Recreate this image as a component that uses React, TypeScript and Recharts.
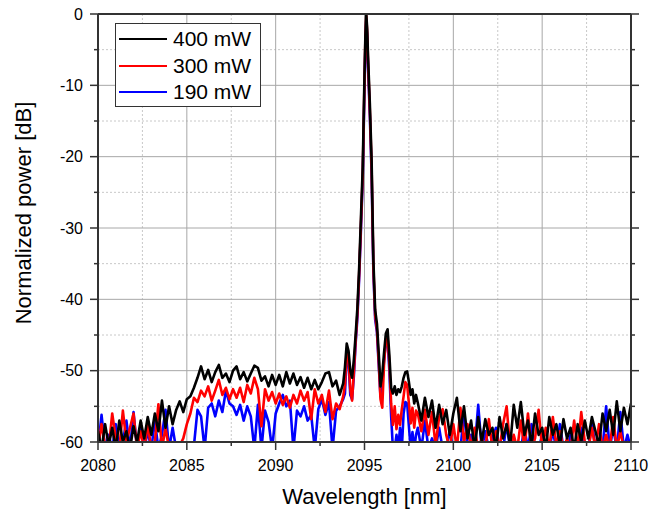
import React from "react";
import { LineChart, Line, XAxis, YAxis, CartesianGrid, Legend } from "recharts";

// sampling grid (nm): coarse on the noise floor, finer across the lasing peak
const wlLeft = [
  2080, 2080.2, 2080.4, 2080.6, 2080.8, 2081, 2081.2, 2081.4, 2081.6, 2081.8,
  2082, 2082.2, 2082.4, 2082.6, 2082.8, 2083, 2083.2, 2083.4, 2083.6, 2083.8,
  2084, 2084.2, 2084.4, 2084.6, 2084.8, 2085, 2085.2, 2085.4, 2085.6, 2085.8,
  2086, 2086.2, 2086.4, 2086.6, 2086.8, 2087, 2087.2, 2087.4, 2087.6, 2087.8,
  2088, 2088.2, 2088.4, 2088.6, 2088.8, 2089, 2089.2, 2089.4, 2089.6, 2089.8,
  2090, 2090.2, 2090.4, 2090.6, 2090.8, 2091, 2091.2, 2091.4, 2091.6, 2091.8,
  2092, 2092.2, 2092.4, 2092.6, 2092.8, 2093, 2093.2, 2093.4, 2093.6, 2093.8,
];
const wlPeak = [
  2093.9, 2094, 2094.1, 2094.2, 2094.3, 2094.4, 2094.5, 2094.6, 2094.7, 2094.8,
  2094.9, 2095, 2095.05, 2095.1, 2095.15, 2095.2, 2095.3, 2095.4, 2095.5, 2095.6,
  2095.7, 2095.8, 2095.9, 2096, 2096.1, 2096.2, 2096.3, 2096.4, 2096.5, 2096.6,
  2096.7, 2096.8, 2096.9, 2097, 2097.1, 2097.2, 2097.3, 2097.4, 2097.5, 2097.6,
  2097.7, 2097.8, 2097.9,
];
const wlRight = [
  2098, 2098.2, 2098.4, 2098.6, 2098.8, 2099, 2099.2, 2099.4, 2099.6, 2099.8,
  2100, 2100.2, 2100.4, 2100.6, 2100.8, 2101, 2101.2, 2101.4, 2101.6, 2101.8,
  2102, 2102.2, 2102.4, 2102.6, 2102.8, 2103, 2103.2, 2103.4, 2103.6, 2103.8,
  2104, 2104.2, 2104.4, 2104.6, 2104.8, 2105, 2105.2, 2105.4, 2105.6, 2105.8,
  2106, 2106.2, 2106.4, 2106.6, 2106.8, 2107, 2107.2, 2107.4, 2107.6, 2107.8,
  2108, 2108.2, 2108.4, 2108.6, 2108.8, 2109, 2109.2, 2109.4, 2109.6, 2109.8,
  2110,
];

// 400 mW (dB)
const p400Left = [
  -58.5, -61, -57.5, -60.5, -58, -61, -57, -60, -58.5, -61,
  -57.8, -60, -57, -59.5, -56.5, -59, -56, -58.5, -54.2, -58,
  -55, -57.5, -55.5, -54.3, -55.8, -54, -53.6, -52.4, -51.0, -49.4,
  -51.2, -49.9, -51.6, -50.2, -49.2, -51.0, -50.4, -51.6, -50.0, -49.4,
  -51.2, -50.2, -51.5, -50.4, -49.3, -49.6, -51.4, -50.8, -52.2, -50.6,
  -52.0, -50.6, -52.2, -50.2, -51.8, -50.4, -52.0, -50.9, -52.4, -51.0,
  -52.6, -51.3, -52.6, -51.6, -50.4, -50.2, -52.2, -51.4, -53.4, -51.8,
];
const p400Peak = [
  -49.5, -46.2, -47.2, -50.0, -51.0, -48.5, -45.0, -41.2, -35.5, -28.5,
  -21.5, -8.5, -3, 0, -2, -6, -12.5, -20.5, -34.5, -41.5,
  -43.4, -47.5, -52.2, -50.5, -47.5, -44.8, -44.2, -47.8, -52.4, -53.2,
  -52.2, -53.4, -52.6, -53.0, -52.2, -51.0, -50.2, -50.1, -51.6, -53.4,
  -52.6, -54.6, -53.4,
];
const p400Right = [
  -54.5, -57, -53.8, -56.5, -54.2, -58, -54.8, -57.5, -55.5, -59,
  -56, -53.8, -58.5, -55, -59.5, -57, -61, -56.5, -60, -56.8,
  -59, -58, -61, -56.5, -59.5, -57.5, -60.5, -54.8, -58, -54.4,
  -59, -57, -60.5, -56, -59, -58, -61, -56.5, -59, -57.5,
  -60.5, -56.8, -59.5, -58, -61, -57.5, -60, -57, -59.5, -56.5,
  -58.5, -60.5, -56, -58.5, -55.5, -59, -54.3, -58.5, -55.2, -57.5,
  -54.6,
];

// 300 mW (dB)
const p300Left = [
  -61, -57.5, -60.5, -61, -56, -59.5, -61, -55.6, -60, -58,
  -56, -61, -58.5, -61, -57.5, -61, -60, -54.7, -61, -58,
  -61, -60, -61, -60.5, -59.5, -57.5, -56.0, -53.8, -54.4, -52.8,
  -53.6, -52.2, -54.2, -52.8, -51.3, -53.4, -52.4, -54.0, -52.6, -53.8,
  -52.4, -54.4, -52.0, -53.2, -51.0, -52.6, -57.8, -52.6, -54.2, -53.0,
  -54.6, -53.2, -54.8, -53.6, -55.2, -53.4, -54.6, -52.8, -54.2, -53.0,
  -56.8, -52.6, -54.6, -53.4, -55.8, -52.8, -56.8, -54.6, -55.4, -53.6,
];
const p300Peak = [
  -52.0, -47.0, -48.2, -52.6, -54.2, -50.2, -45.8, -42.0, -36.4, -29.5,
  -22.5, -9.5, -3.5, -0.3, -2.6, -6.8, -13.5, -21.5, -35.5, -42.2,
  -44.2, -48.6, -54.0, -55.2, -49.0, -45.8, -45.4, -49.0, -54.6, -57.6,
  -55.0, -58.2, -56.2, -57.6, -55.4, -53.6, -51.6, -52.0, -54.6, -57.4,
  -55.2, -58.0, -55.6,
];
const p300Right = [
  -56, -58.5, -55.5, -59, -55.8, -60.5, -56.5, -55.4, -59, -61,
  -57.5, -61, -55.2, -60, -57.5, -61, -58, -61, -59.5, -61,
  -56.8, -61, -58.5, -61, -57.5, -55, -61, -59, -61, -57,
  -61, -56, -61, -59.5, -55.5, -61, -58, -61, -56.5, -60.5,
  -58.5, -61, -59.5, -61, -57, -61, -55.8, -60, -61, -58,
  -61, -57.5, -61, -59, -61, -56.5, -61, -58.5, -61, -60,
  -61,
];

// 190 mW (dB)
const p190Left = [
  -61, -56.2, -61, -59, -61, -57.5, -61, -60, -57, -61,
  -55.8, -61, -57.5, -61, -58.5, -61, -57, -61, -59, -55.5,
  -61, -58, -61, -61, -61, -61, -61, -60.5, -55.5, -56.4,
  -61, -55.2, -54.6, -56.4, -54.2, -55.8, -52.8, -54.6, -55.0, -56.2,
  -54.8, -57.0, -55.0, -56.4, -61, -54.8, -61, -55.6, -57.2, -61,
  -56.0, -54.6, -53.4, -55.0, -54.2, -61, -55.6, -56.4, -55.0, -57.0,
  -56.2, -61, -55.4, -54.0, -56.2, -54.4, -61, -55.6, -55.0, -54.0,
];
const p190Peak = [
  -53.2, -47.6, -48.8, -53.4, -54.0, -50.8, -46.2, -42.6, -37.0, -30.2,
  -23.2, -10.5, -4.5, -0.9, -3.2, -7.5, -14.2, -22.5, -36.2, -42.8,
  -44.6, -49.2, -53.6, -52.0, -48.6, -46.0, -45.8, -50.0, -56.4, -61,
  -61, -59.0, -61, -58.0, -61, -56.0, -54.4, -54.6, -57.8, -61,
  -58.6, -61, -59.0,
];
const p190Right = [
  -58, -61, -57, -61, -59.5, -61, -58, -61, -61, -58.5,
  -61, -60, -61, -55.8, -61, -59, -61, -54.8, -61, -58.5,
  -61, -59.5, -58, -61, -61, -57.5, -61, -60, -61, -61,
  -58, -61, -57.5, -61, -61, -59, -61, -61, -58.5, -61,
  -57.5, -61, -61, -59, -61, -61, -58, -61, -61, -57.2,
  -61, -60, -61, -55, -61, -58, -61, -55.8, -61, -59,
  -61,
];

const xMajor = [2080, 2085, 2090, 2095, 2100, 2105, 2110];
const xMinor = [2082.5, 2087.5, 2092.5, 2097.5, 2102.5, 2107.5];
const yMajor = [-60, -50, -40, -30, -20, -10, 0];
const yMinor = [-55, -45, -35, -25, -15, -5];

const series = [
  { key: "p400", name: "400 mW", color: "#000000" },
  { key: "p300", name: "300 mW", color: "#ff0000" },
  { key: "p190", name: "190 mW", color: "#0000ff" },
];

const wavelengths = [...wlLeft, ...wlPeak, ...wlRight];
const p400 = [...p400Left, ...p400Peak, ...p400Right];
const p300 = [...p300Left, ...p300Peak, ...p300Right];
const p190 = [...p190Left, ...p190Peak, ...p190Right];
const data = wavelengths.map((wl, i) => ({ wl, p400: p400[i], p300: p300[i], p190: p190[i] }));

const xTicks = [...xMajor, ...xMinor].sort((a, b) => a - b);
const yTicks = [...yMajor, ...yMinor].sort((a, b) => a - b);

const AXIS = "#333";
const FONT = "'Liberation Sans', Arial, sans-serif";

const BottomTick = ({ x, y, payload }: any) => {
  const major = xMajor.includes(payload.value);
  return (
    <g>
      <line x1={x} x2={x} y1={y} y2={y + (major ? 8 : 4)} stroke={AXIS} strokeWidth={1.5} />
      {major && (
        <text x={x} y={y + 29} textAnchor="middle" fontSize={16} fill="#000">
          {payload.value}
        </text>
      )}
    </g>
  );
};

const TopTick = ({ x, y, payload }: any) => {
  const major = xMajor.includes(payload.value);
  return <line x1={x} x2={x} y1={y - (major ? 8 : 4)} y2={y} stroke={AXIS} strokeWidth={1.5} />;
};

const LeftTick = ({ x, y, payload }: any) => {
  const major = yMajor.includes(payload.value);
  return (
    <g>
      <line x1={x - (major ? 8 : 4)} x2={x} y1={y} y2={y} stroke={AXIS} strokeWidth={1.5} />
      {major && (
        <text x={x - 15} y={y} dy="0.36em" textAnchor="end" fontSize={16} fill="#000">
          {payload.value}
        </text>
      )}
    </g>
  );
};

const RightTick = ({ x, y, payload }: any) => {
  const major = yMajor.includes(payload.value);
  return <line x1={x} x2={x + (major ? 8 : 4)} y1={y} y2={y} stroke={AXIS} strokeWidth={1.5} />;
};

const YTitle = ({ viewBox }: any) => {
  const cx = viewBox.x + 31;
  const cy = viewBox.y + viewBox.height / 2 - 15;
  return (
    <text x={cx} y={cy} transform={`rotate(-90, ${cx}, ${cy})`} textAnchor="middle" fontSize={22} fill="#000">
      Normalized power [dB]
    </text>
  );
};

const LegendBox = () => (
  <div
    style={{
      width: 146,
      height: 84,
      boxSizing: "border-box",
      border: "1px solid #333",
      background: "#fff",
      padding: "2px 3px",
      fontSize: 21,
      fontFamily: FONT,
      color: "#000",
    }}
  >
    {series.map((s) => (
      <div key={s.key} style={{ display: "flex", alignItems: "center", height: 26.5 }}>
        <span style={{ display: "inline-block", width: 48, height: 2, background: s.color, marginRight: 6 }} />
        <span>{s.name}</span>
      </div>
    ))}
  </div>
);

export default function App() {
  return (
    <div style={{ fontFamily: FONT }}>
      <style>{"body{margin:0}"}</style>
      <LineChart width={668} height={512} data={data} margin={{ top: 4, right: 27, bottom: 0, left: 0 }}>
        <CartesianGrid verticalValues={xMinor} horizontalValues={yMinor} stroke="#c8c8c8" strokeDasharray="2 2" />
        <CartesianGrid verticalValues={xMajor} horizontalValues={yMajor} stroke="#a8a8a8" />
        <XAxis
          dataKey="wl"
          type="number"
          domain={[2080, 2110]}
          allowDataOverflow
          ticks={xTicks}
          interval={0}
          height={70}
          tickLine={false}
          tickSize={0}
          tickMargin={0}
          tick={<BottomTick />}
          axisLine={{ stroke: AXIS, strokeWidth: 2 }}
          label={{ value: "Wavelength [nm]", position: "insideBottom", offset: 8, fontSize: 22, fill: "#000" }}
        />
        <XAxis
          xAxisId="top"
          orientation="top"
          type="number"
          domain={[2080, 2110]}
          allowDataOverflow
          ticks={xTicks}
          interval={0}
          height={10}
          tickLine={false}
          tickSize={0}
          tickMargin={0}
          tick={<TopTick />}
          axisLine={{ stroke: AXIS, strokeWidth: 2 }}
        />
        <YAxis
          type="number"
          domain={[-60, 0]}
          allowDataOverflow
          ticks={yTicks}
          interval={0}
          width={98}
          tickLine={false}
          tickSize={0}
          tickMargin={0}
          tick={<LeftTick />}
          axisLine={{ stroke: AXIS, strokeWidth: 2 }}
          label={{ content: <YTitle /> }}
        />
        <YAxis
          yAxisId="right"
          orientation="right"
          type="number"
          domain={[-60, 0]}
          allowDataOverflow
          ticks={yTicks}
          interval={0}
          width={10}
          tickLine={false}
          tickSize={0}
          tickMargin={0}
          tick={<RightTick />}
          axisLine={{ stroke: AXIS, strokeWidth: 2 }}
        />
        {[...series].reverse().map((s) => (
          <Line
            key={s.key}
            dataKey={s.key}
            name={s.name}
            type="linear"
            stroke={s.color}
            strokeWidth={2.6}
            strokeLinejoin="round"
            dot={false}
            isAnimationActive={false}
          />
        ))}
        <Legend
          layout="vertical"
          align="center"
          verticalAlign="middle"
          width={146}
          content={<LegendBox />}
          wrapperStyle={{ left: 115, top: 23, width: 146 }}
        />
      </LineChart>
    </div>
  );
}
